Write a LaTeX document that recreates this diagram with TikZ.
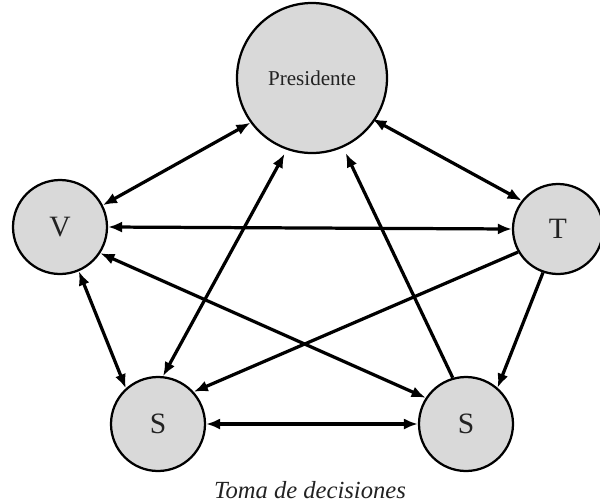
\documentclass[tikz,border=0pt]{standalone}
\usepackage{fontspec}
\setmainfont{Liberation Serif}
\usetikzlibrary{arrows.meta}
\definecolor{nodefill}{HTML}{D9D9D9}
\definecolor{txt}{HTML}{222222}
\tikzset{
  actor/.style={circle, draw=black, line width=1.6pt, fill=nodefill, inner sep=0pt, text=txt},
  letter/.style={actor, minimum size=94*0.025cm, font=\fontsize{21}{25}\selectfont},
  link/.style={line width=2.3pt, draw=black},
  both/.style={link, {Latex[length=10pt,width=8pt]}-{Latex[length=10pt,width=8pt]}},
  one/.style={link, -{Latex[length=10pt,width=8pt]}}
}
\begin{document}
\begin{tikzpicture}[x=0.025cm, y=-0.025cm]
\useasboundingbox (0,0) rectangle (600,502);
\node[actor, minimum size=150*0.025cm, font=\fontsize{15}{18}\selectfont] (P) at (312,78) {Presidente};
\node[letter] (V) at (60,227) {V};
\node[letter, minimum size=90*0.025cm] (T) at (558,229) {T};
\node[letter] (SL) at (158,424) {S};
\node[letter] (SR) at (466,424) {S};
\node[text=txt, font=\fontsize{17.5}{21}\selectfont\itshape] (cap) at (310,490) {Toma de decisiones};

\draw[both] (P.216) -- (V.27);
\draw[both] ([shift={(-4pt,-2pt)}]P.-30) -- (T.142);
\draw[both] (V.east) -- (T.west);
\draw[both] ([shift={(-1pt,-3pt)}]P.250) -- (SL.84);
\draw[one] (SR.106) -- ([shift={(2pt,-4pt)}]P.-66);
\draw[one] (T.210) -- (SL.42);
\draw[both] (V.-33) -- (SR.147);
\draw[both] (V.-67) -- (SL.132);
\draw[one] (T.251) -- (SR.49);
\draw[both] (SL.east) -- (SR.west);
\end{tikzpicture}
\end{document}
